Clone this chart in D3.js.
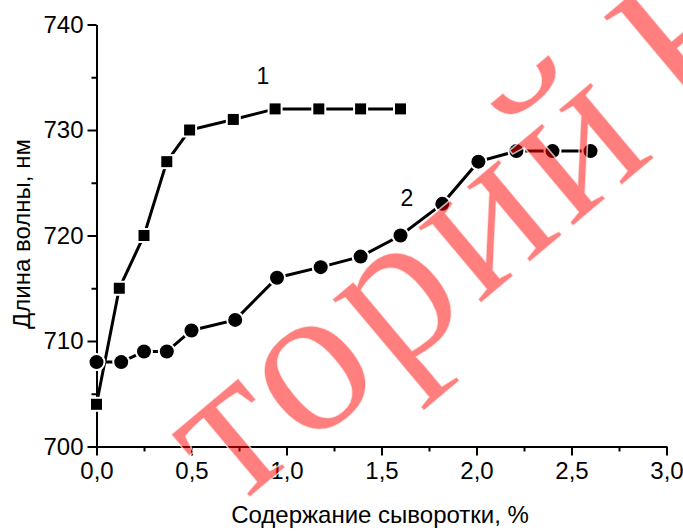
<!DOCTYPE html>
<html>
<head>
<meta charset="utf-8">
<script src="https://cdn.jsdelivr.net/npm/d3@7"></script>
<style>
  body { margin: 0; background: #fff; }
  text { font-family: "Liberation Sans", Arial, sans-serif; }
</style>
</head>
<body>
<svg width="683" height="531"></svg>
<script>
(function () {
  'use strict';

  // ---- data ----
  const xMajor = [0, 0.5, 1.0, 1.5, 2.0, 2.5, 3.0];
  const xMinor = [0.25, 0.75, 1.25, 1.75, 2.25, 2.75];
  const yMajor = [700, 710, 720, 730, 740];
  const yMinor = [705, 715, 725, 735];

  const s1X = [0, 0.12, 0.25, 0.37, 0.49, 0.72, 0.94, 1.17, 1.39, 1.6];
  const s1Y = [704, 715, 720, 727, 730, 731, 732, 732, 732, 732];
  const s2X = [0, 0.13, 0.25, 0.37, 0.5, 0.73, 0.95, 1.18, 1.39, 1.6, 1.82, 2.01, 2.21, 2.4, 2.6];
  const s2Y = [708, 708, 709, 709, 711, 712, 716, 717, 718, 720, 723, 727, 728, 728, 728];

  const svg = d3.select("svg");
  const x = d3.scaleLinear().domain([0, 3]).range([96.5, 666.5]);
  const y = d3.scaleLinear().domain([700, 740]).range([446.5, 24.5]);
  const fmt = d => d3.format(".1f")(d).replace(".", ",");

  //========== AXES ==========
  const xAx = svg.append("g").attr("transform", `translate(0,${y(700)})`)
    .call(d3.axisBottom(x).tickValues(xMajor).tickSize(9).tickSizeOuter(0).tickFormat(fmt));
  svg.append("g").attr("transform", `translate(0,${y(700)})`)
    .call(d3.axisBottom(x).tickValues(xMinor).tickSize(5).tickFormat(""))
    .select(".domain").remove();
  const yAx = svg.append("g").attr("transform", `translate(${x(0)},0)`)
    .call(d3.axisLeft(y).tickValues(yMajor).tickSize(9).tickSizeOuter(0).tickFormat(d3.format("d")));
  svg.append("g").attr("transform", `translate(${x(0)},0)`)
    .call(d3.axisLeft(y).tickValues(yMinor).tickSize(5).tickFormat(""))
    .select(".domain").remove();

  svg.selectAll(".domain, .tick line").attr("stroke", "#000").attr("stroke-width", 2);
  xAx.selectAll("text").attr("font-size", 24).attr("dy", "0.85em").attr("fill", "#000");
  yAx.selectAll("text").attr("font-size", 24).attr("x", -13).attr("fill", "#000");

  svg.append("text").attr("x", 380).attr("y", 523).attr("text-anchor", "middle")
    .attr("font-size", 24).text("Содержание сыворотки, %");
  svg.append("text").attr("transform", "translate(30,234) rotate(-90)").attr("text-anchor", "middle")
    .attr("font-size", 24).text("Длина волны, нм");

  //========== SERIES ==========
  const line = d3.line().x(d => x(d[0])).y(d => y(d[1]));
  const d1 = s1X.map((v, i) => [v, s1Y[i]]);
  const d2 = s2X.map((v, i) => [v, s2Y[i]]);

  svg.append("path").datum(d1).attr("d", line).attr("fill", "none")
    .attr("stroke", "#000").attr("stroke-width", 3);
  svg.append("path").datum(d2).attr("d", line).attr("fill", "none")
    .attr("stroke", "#000").attr("stroke-width", 3);

  // white halo round the markers gives the broken-line look
  svg.selectAll("rect.sq").data(d1).enter().append("rect").attr("class", "sq")
    .attr("x", d => x(d[0]) - 5.5).attr("y", d => y(d[1]) - 5.5)
    .attr("width", 11).attr("height", 11)
    .attr("fill", "#000").attr("stroke", "#fff").attr("stroke-width", 4);
  svg.selectAll("circle.dot").data(d2).enter().append("circle").attr("class", "dot")
    .attr("cx", d => x(d[0])).attr("cy", d => y(d[1])).attr("r", 7)
    .attr("fill", "#000").attr("stroke", "#fff").attr("stroke-width", 4);
  svg.selectAll("rect.sq2").data(d1).enter().append("rect").attr("class", "sq2")
    .attr("x", d => x(d[0]) - 5.5).attr("y", d => y(d[1]) - 5.5)
    .attr("width", 11).attr("height", 11).attr("fill", "#000");
  svg.selectAll("circle.dot2").data(d2).enter().append("circle").attr("class", "dot2")
    .attr("cx", d => x(d[0])).attr("cy", d => y(d[1])).attr("r", 7).attr("fill", "#000");

  svg.append("text").attr("x", 263).attr("y", 84).attr("text-anchor", "middle").attr("font-size", 23).text("1");
  svg.append("text").attr("x", 407).attr("y", 206).attr("text-anchor", "middle").attr("font-size", 23).text("2");

  //========== WATERMARK ==========
  svg.append("text")
    .attr("transform", "translate(232,512) rotate(-40)")
    .style("font-family", "'Liberation Serif', 'DejaVu Serif', serif")
    .attr("font-size", 215)
    .attr("letter-spacing", 5)
    .attr("word-spacing", -25)
    .attr("fill", "red").attr("fill-opacity", 0.5)
    .attr("stroke", "#fff").attr("stroke-width", 1.5).attr("stroke-opacity", 0.7)
    .text("торий Б");
}());
</script>
</body>
</html>
